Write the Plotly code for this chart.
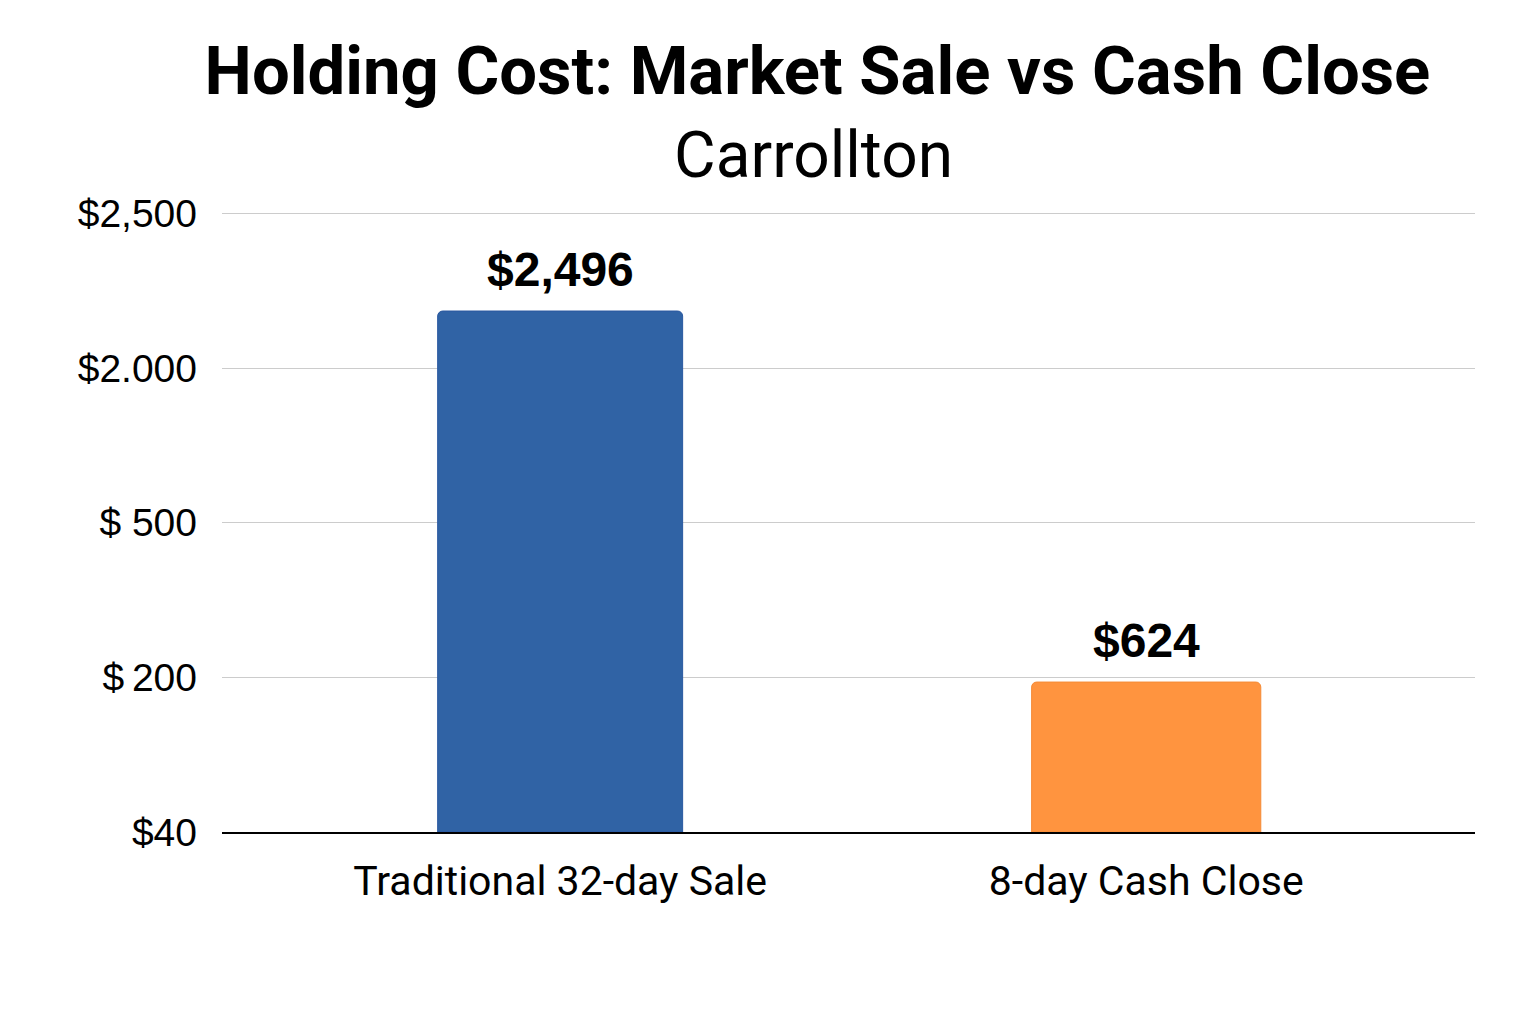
import plotly.graph_objects as go

# data
categories = ["Traditional 32-day Sale", "8-day Cash Close"]
cost_labels = ["$2,496", "$624"]
# the reference axis is not linear: ticks are evenly spaced labels,
# so bar heights are kept in tick-step units as they appear
bar_heights = [3.37, 0.97]
tick_labels = ["$40", "$\u2009200", "$ 500", "$2.000", "$2,500"]
tick_positions = [0, 1, 2, 3, 4]

bar_colors = ["#3063A5", "#FF943F"]
bar_edges = ["#2A58A0", "#F58A35"]

fig = go.Figure()

fig.add_trace(
    go.Bar(
        x=[0, 1],
        y=bar_heights,
        width=[0.418, 0.391],
        marker=dict(
            color=bar_colors,
            line=dict(color=bar_edges, width=1),
            cornerradius=5,
        ),
        showlegend=False,
        hoverinfo="skip",
    )
)

for i, label in enumerate(cost_labels):
    fig.add_annotation(
        x=i,
        y=bar_heights[i],
        text=f"<b>{label}</b>",
        showarrow=False,
        yanchor="bottom",
        yshift=13,
        font=dict(family="Liberation Sans, Arial, sans-serif", size=48, color="#000000"),
    )

fig.add_annotation(
    xref="paper",
    yref="paper",
    x=0.4717,
    y=1.086,
    text="Carrollton",
    showarrow=False,
    yanchor="middle",
    font=dict(family="Roboto, Arial, sans-serif", size=64, color="#000000"),
)

fig.update_layout(
    title=dict(
        text="<b>Holding Cost: Market Sale vs Cash Close</b>",
        x=0.527,
        xanchor="center",
        y=0.9385,
        yanchor="middle",
        font=dict(family="Roboto, Arial, sans-serif", size=67, color="#000000"),
    ),
    width=1536,
    height=1024,
    margin=dict(l=214, r=69, t=201, b=200),
    paper_bgcolor="white",
    plot_bgcolor="white",
    xaxis=dict(
        range=[-0.577, 1.561],
        tickvals=[0, 1],
        ticktext=categories,
        showgrid=False,
        zeroline=False,
        showline=True,
        linecolor="#000000",
        linewidth=1.5,
        ticks="",
        ticklabelstandoff=12,
        tickfont=dict(family="Roboto, Arial, sans-serif", size=41, color="#000000"),
    ),
    yaxis=dict(
        range=[0, 4.03],
        tickvals=tick_positions,
        ticktext=tick_labels,
        showgrid=True,
        gridcolor="#CCCCCC",
        gridwidth=1.2,
        zeroline=False,
        ticks="",
        ticklabelstandoff=24,
        tickfont=dict(family="Liberation Sans, Arial, sans-serif", size=39, color="#000000"),
    ),
)

fig.write_html("out.html")
